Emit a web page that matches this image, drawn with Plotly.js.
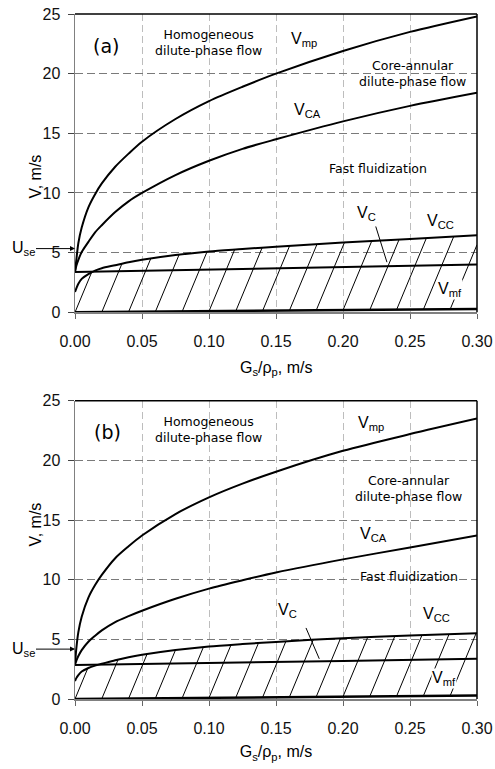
<!DOCTYPE html>
<html>
<head>
<meta charset="utf-8">
<script src="https://cdn.plot.ly/plotly-3.0.1.min.js"></script>
<style>html,body{margin:0;padding:0;background:#fff;}#chart{width:495px;height:769px;}</style>
</head>
<body>
<div id="chart"></div>
<script>
// ---- data ----
const X = [0, 0.001, 0.0025, 0.005, 0.01, 0.015, 0.02, 0.03, 0.04, 0.05, 0.075, 0.1, 0.125, 0.15, 0.2, 0.25, 0.3];
const X_LINE = [0, 0.1, 0.2, 0.3];

// panel (a)
const A_Vmp = [3.4, 4.4, 5.8, 7.1, 8.8, 9.9, 10.8, 12.2, 13.3, 14.3, 16.2, 17.7, 18.9, 20.0, 21.9, 23.5, 24.8];
const A_VCA = [3.4, 3.9, 4.4, 5.05, 5.9, 6.7, 7.3, 8.4, 9.3, 10.0, 11.5, 12.7, 13.7, 14.5, 16.0, 17.3, 18.4];
const A_Vcc = [1.7, 2.0, 2.4, 2.8, 3.2, 3.5, 3.7, 3.95, 4.2, 4.4, 4.8, 5.1, 5.3, 5.5, 5.85, 6.15, 6.45];
const A_Vc  = [3.38, 3.58, 3.78, 4.0];
const A_Vmf = [0, 0.09, 0.18, 0.28];
const A_Use = 5.34;

// panel (b)
const B_Vmp = [2.9, 4.25, 5.6, 6.9, 8.5, 9.55, 10.4, 11.8, 12.8, 13.7, 15.5, 16.9, 18.05, 19.05, 20.8, 22.2, 23.5];
const B_VCA = [2.9, 3.2, 3.6, 4.1, 4.8, 5.3, 5.75, 6.45, 6.95, 7.4, 8.4, 9.25, 9.95, 10.6, 11.7, 12.7, 13.7];
const B_Vcc = [1.5, 1.75, 2.0, 2.3, 2.6, 2.8, 2.95, 3.25, 3.5, 3.7, 4.1, 4.4, 4.6, 4.78, 5.1, 5.32, 5.52];
const B_Vc  = [2.85, 3.0, 3.18, 3.37];
const B_Vmf = [0, 0.1, 0.2, 0.3];
const B_Use = 4.18;

const X_TICKS = [0, 0.05, 0.10, 0.15, 0.20, 0.25, 0.30];
const Y_TICKS = [0, 5, 10, 15, 20, 25];

// ---- styling ----
const HATCH_STEP = 0.02;
const HATCH_SLOPE = 270; // V per (m/s) along a hatch stroke
const XMAX = 0.3;
const ARIAL = 'Liberation Sans, Arial, sans-serif';
const VERD = 'DejaVu Sans, Verdana, sans-serif';

function interp(xs, ys, x) {
  if (x <= xs[0]) return ys[0];
  for (let i = 1; i < xs.length; i++) {
    if (x <= xs[i]) {
      const t = (x - xs[i-1]) / (xs[i] - xs[i-1]);
      return ys[i-1] + t * (ys[i] - ys[i-1]);
    }
  }
  return ys[ys.length-1];
}

function hatch(top, bottom) {
  const hx = [], hy = [];
  const n = Math.round(XMAX / HATCH_STEP);
  for (let i = 0; i <= n; i++) {
    const x0 = i * HATCH_STEP;
    const y0 = interp(X_LINE, bottom, x0);
    let x = x0, y = y0, done = false;
    const dx = 0.00005;
    while (x < XMAX) {
      const nx = x + dx, ny = y0 + HATCH_SLOPE * (nx - x0);
      if (ny >= interp(X, top, nx)) { x = nx; y = ny; done = true; break; }
      x = nx; y = ny;
    }
    if (!done) { x = XMAX; y = y0 + HATCH_SLOPE * (XMAX - x0); }
    hx.push(x0, x, null); hy.push(y0, y, null);
  }
  return {hx, hy};
}

function panelTraces(xa, ya, Vmp, VCA, Vcc, Vc, Vmf) {
  const h = hatch(Vcc, Vmf);
  const thick = {color: '#000', width: 2, shape: 'spline', smoothing: 0.8};
  return [
    {x: h.hx, y: h.hy, mode: 'lines', line: {color: '#000', width: 1}, xaxis: xa, yaxis: ya, hoverinfo: 'skip'},
    {x: X, y: Vmp, mode: 'lines', line: thick, xaxis: xa, yaxis: ya},
    {x: X, y: VCA, mode: 'lines', line: thick, xaxis: xa, yaxis: ya},
    {x: X, y: Vcc, mode: 'lines', line: thick, xaxis: xa, yaxis: ya},
    {x: X_LINE, y: Vc, mode: 'lines', line: {color: '#000', width: 2}, xaxis: xa, yaxis: ya},
    {x: X_LINE, y: Vmf, mode: 'lines', line: {color: '#000', width: 2.5}, xaxis: xa, yaxis: ya}
  ];
}

const data = [].concat(
  panelTraces('x', 'y', A_Vmp, A_VCA, A_Vcc, A_Vc, A_Vmf),
  panelTraces('x2', 'y2', B_Vmp, B_VCA, B_Vcc, B_Vc, B_Vmf)
);

const fV = {family: ARIAL, size: 16, color: '#000'};
const fR = {family: VERD, size: 12.5, color: '#000'};
const X_TITLE = 'G<sub>s</sub>/ρ<sub>p</sub>, m/s';

function xAxis(anchor, withTitle) {
  const ax = {
    anchor: anchor, range: [0, XMAX], tickvals: X_TICKS, tickformat: '.2f',
    showline: true, linecolor: '#808080', linewidth: 1.5,
    ticks: 'outside', ticklen: 5, tickcolor: '#666', tickwidth: 1,
    ticklabelstandoff: 9,
    tickfont: {family: ARIAL, size: 16, color: '#111'},
    showgrid: true, gridcolor: '#bdbdbd', gridwidth: 1, griddash: '7px,4px',
    zeroline: false, fixedrange: true, automargin: false
  };
  if (withTitle) ax.title = {text: X_TITLE, font: fV, standoff: 10};
  return ax;
}
function yAxis(anchor, domain) {
  return {
    anchor: anchor, domain: domain, range: [0, 25], tickvals: Y_TICKS,
    showline: true, linecolor: '#808080', linewidth: 1.5,
    ticks: 'outside', ticklen: 6, tickcolor: '#444', tickwidth: 1,
    ticklabelstandoff: 4,
    tickfont: {family: ARIAL, size: 16, color: '#111'},
    showgrid: true, gridcolor: '#7a7a7a', gridwidth: 1, griddash: '8px,4px',
    zeroline: false, fixedrange: true
  };
}

function frame(xr, yr) {
  return [
    {type: 'line', xref: xr + ' domain', yref: yr + ' domain', x0: 0, x1: 1, y0: 1, y1: 1, line: {color: '#000', width: 1.5}, layer: 'above'},
    {type: 'line', xref: xr + ' domain', yref: yr + ' domain', x0: 1, x1: 1, y0: 0, y1: 1, line: {color: '#000', width: 1.5}, layer: 'above'}
  ];
}

function txt(xr, yr, x, y, text, font, opts) {
  return Object.assign({xref: xr, yref: yr, x: x, y: y, text: text, showarrow: false, font: font}, opts || {});
}

function panelAnn(xr, yr, p) {
  return [
    txt(xr, yr, p.lab[0], p.lab[1], p.label, {family: VERD, size: 19, color: '#000'}),
    txt(xr, yr, p.hom[0], p.hom[1], 'Homogeneous<br>dilute-phase flow', fR),
    txt(xr, yr, p.mp[0], p.mp[1], 'V<sub>mp</sub>', fV, {xanchor: 'left'}),
    txt(xr, yr, p.core[0], p.core[1], 'Core-annular<br>dilute-phase flow', fR),
    txt(xr, yr, p.ca[0], p.ca[1], 'V<sub>CA</sub>', fV, {xanchor: 'left'}),
    txt(xr, yr, p.fast[0], p.fast[1], 'Fast fluidization', fR),
    txt(xr, yr, p.c[0], p.c[1], 'V<sub>C</sub>', fV, {xanchor: 'left'}),
    {xref: xr, yref: yr, axref: xr, ayref: yr, x: p.lead[2], y: p.lead[3], ax: p.lead[0], ay: p.lead[1], text: '', showarrow: true, arrowhead: 0, arrowwidth: 1, arrowcolor: '#000'},
    txt(xr, yr, p.cc[0], p.cc[1], 'V<sub>CC</sub>', fV, {xanchor: 'left'}),
    txt(xr, yr, p.mf[0], p.mf[1], 'V<sub>mf</sub>', fV, {xanchor: 'left', bgcolor: '#fff', borderpad: 0}),
    {xref: xr, yref: yr, x: 0, y: p.use, ax: -52, ay: 0, text: 'U<sub>se</sub>', font: fV, showarrow: true, arrowhead: 2, arrowsize: 1, arrowwidth: 1, arrowcolor: '#000', standoff: 0}
  ];
}

const annA = panelAnn('x', 'y', {
  label: '(a)', lab: [0.023, 22.3], hom: [0.0995, 22.6], mp: [0.160, 22.9], core: [0.2515, 20.0],
  ca: [0.162, 16.9], fast: [0.2264, 12.07], c: [0.209, 8.3], lead: [0.2241, 7.32, 0.2328, 4.2],
  cc: [0.261, 7.65], mf: [0.270, 1.9], use: A_Use
});
const annB = panelAnn('x2', 'y2', {
  label: '(b)', lab: [0.0241, 22.4], hom: [0.0995, 22.59], mp: [0.210, 23.1], core: [0.2488, 17.6],
  ca: [0.211, 13.8], fast: [0.2495, 10.26], c: [0.150, 7.4], lead: [0.1719, 6.08, 0.1823, 3.37],
  cc: [0.258, 7.1], mf: [0.266, 1.7], use: B_Use
});

const titles = [
  {xref: 'paper', yref: 'paper', x: -0.1244, y: 0.7985, text: 'V, m/s', textangle: -90, showarrow: false, font: fV},
  {xref: 'paper', yref: 'paper', x: -0.1244, y: 0.2204, text: 'V, m/s', textangle: -90, showarrow: false, font: fV},
  {xref: 'paper', yref: 'paper', x: 0.5, y: 0.483, text: X_TITLE, showarrow: false, font: fV}
];

const layout = {
  width: 495, height: 769,
  margin: {l: 75, r: 18, t: 14, b: 70},
  paper_bgcolor: '#fff', plot_bgcolor: '#fff',
  showlegend: false,
  xaxis: xAxis('y', false),
  yaxis: yAxis('x', [0.5645, 1]),
  xaxis2: xAxis('y2', true),
  yaxis2: yAxis('x2', [0, 0.4355]),
  shapes: frame('x', 'y').concat(frame('x2', 'y2')),
  annotations: annA.concat(annB, titles)
};

Plotly.newPlot('chart', data, layout, {staticPlot: true, displayModeBar: false});
</script>
</body>
</html>
